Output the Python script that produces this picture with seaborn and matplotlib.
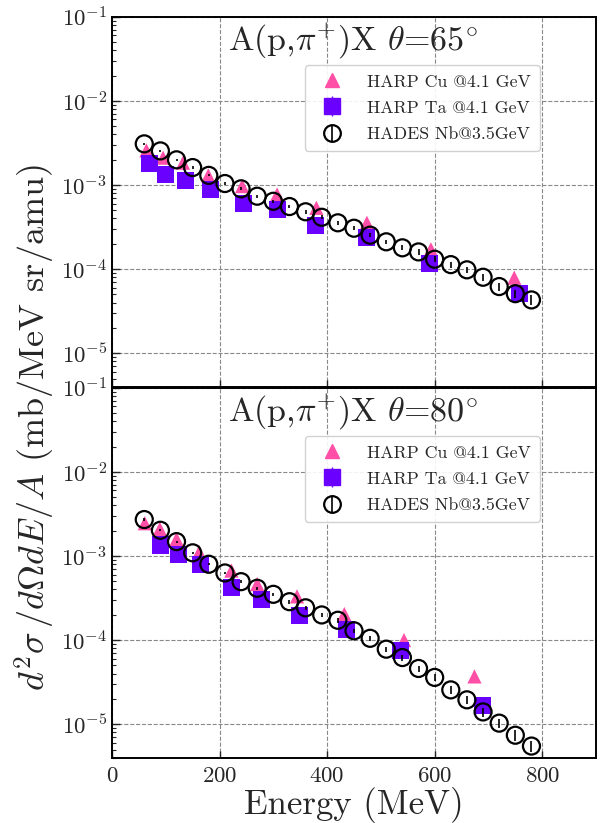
import numpy as np
import matplotlib
matplotlib.use("Agg")
import matplotlib.pyplot as plt
import seaborn as sns
from matplotlib.lines import Line2D
from matplotlib.legend_handler import HandlerTuple
from matplotlib.ticker import LogLocator, FixedLocator

# ---------------- data ----------------
hades_E = [60, 90, 120, 150, 180, 210, 240, 270, 300, 330, 360, 390, 420, 450,
           480, 510, 540, 570, 600, 630, 660, 690, 720, 750, 780]
hades65 = [3.08e-3, 2.54e-3, 1.99e-3, 1.61e-3, 1.30e-3, 1.04e-3, 9.0e-4, 7.35e-4,
           6.4e-4, 5.54e-4, 4.8e-4, 4.13e-4, 3.55e-4, 3.06e-4, 2.53e-4, 2.11e-4,
           1.79e-4, 1.60e-4, 1.31e-4, 1.13e-4, 9.8e-5, 8.0e-5, 6.2e-5, 5.1e-5, 4.3e-5]
hades65_relerr = [0.03, 0.03, 0.03, 0.03, 0.03, 0.03, 0.04, 0.04, 0.04, 0.04, 0.05, 0.05,
                  0.05, 0.05, 0.06, 0.06, 0.07, 0.07, 0.08, 0.08, 0.09, 0.10, 0.11, 0.12, 0.14]
hades80 = [2.71e-3, 2.02e-3, 1.48e-3, 1.09e-3, 7.97e-4, 6.28e-4, 4.95e-4, 4.13e-4,
           3.50e-4, 2.86e-4, 2.42e-4, 1.99e-4, 1.72e-4, 1.29e-4, 1.05e-4, 7.8e-5,
           6.2e-5, 4.6e-5, 3.6e-5, 2.56e-5, 1.95e-5, 1.40e-5, 1.03e-5, 7.4e-6, 5.5e-6]
hades80_relerr = [0.03, 0.03, 0.03, 0.03, 0.03, 0.04, 0.04, 0.04, 0.05, 0.05, 0.05, 0.06,
                  0.06, 0.06, 0.07, 0.07, 0.08, 0.08, 0.09, 0.10, 0.11, 0.12, 0.13, 0.14, 0.15]

cu65_E = [64, 95, 132, 179, 242, 307, 380, 474, 593, 748]
cu65 = [2.58e-3, 2.11e-3, 1.84e-3, 1.30e-3, 9.7e-4, 7.7e-4, 5.35e-4, 3.55e-4, 1.72e-4, 7.9e-5]
ta65_E = [70, 100, 137, 184, 244, 308, 378, 473, 591, 757]
ta65 = [1.80e-3, 1.33e-3, 1.13e-3, 8.9e-4, 6.0e-4, 5.1e-4, 3.27e-4, 2.35e-4, 1.16e-4, 5.1e-5]

cu80_E = [61, 89, 120, 162, 222, 270, 344, 432, 543, 674]
cu80 = [2.45e-3, 2.10e-3, 1.59e-3, 1.11e-3, 6.7e-4, 4.64e-4, 3.31e-4, 2.04e-4, 1.0e-4, 3.7e-5]
ta80_E = [90, 123, 165, 222, 278, 348, 436, 537, 689]
ta80 = [1.35e-3, 1.05e-3, 7.97e-4, 4.2e-4, 3.02e-4, 1.95e-4, 1.35e-4, 7.5e-5, 1.68e-5]

x_ticks = [0, 200, 400, 600, 800]
titles = [r'A(p,$\pi^{+}$)X $\theta$=65$^{\circ}$', r'A(p,$\pi^{+}$)X $\theta$=80$^{\circ}$']
labels = ['HARP Cu @4.1 GeV', 'HARP Ta @4.1 GeV', 'HADES Nb@3.5GeV']

# ---------------- style ----------------
sns.set_style("ticks")
plt.rcParams['font.family'] = ['cmr10', 'DejaVu Serif']
plt.rcParams['mathtext.fontset'] = 'cm'
plt.rcParams['axes.formatter.use_mathtext'] = True
plt.rcParams['axes.linewidth'] = 1.4
plt.rcParams['axes.edgecolor'] = 'black'

PINK = '#ff4fa7'
PURPLE = '#6a00ff'

fig = plt.figure(figsize=(6, 8.23), dpi=100)
W = 484 / 600
H = 370 / 823
L = 112 / 600
ax1 = fig.add_axes([L, 1 - 386.7 / 823, W, H])
ax2 = fig.add_axes([L, 1 - 757.7 / 823, W, H])

panels = [
    (ax1, cu65_E, cu65, ta65_E, ta65, hades65, hades65_relerr, titles[0]),
    (ax2, cu80_E, cu80, ta80_E, ta80, hades80, hades80_relerr, titles[1]),
]

for ax, cE, cY, tE, tY, hY, hErr, title in panels:
    sns.scatterplot(x=cE, y=cY, marker='^', s=105, color=PINK, edgecolor='none',
                    ax=ax, zorder=3)
    ax.errorbar(tE, tY, yerr=[0.04 * v for v in tY], fmt='none', ecolor=PURPLE,
                elinewidth=1.0, capsize=0, zorder=3.5)
    sns.scatterplot(x=tE, y=tY, marker='s', s=150, color=PURPLE, edgecolor='none',
                    ax=ax, zorder=4)
    ax.errorbar(hades_E, hY, yerr=[r * v for r, v in zip(hErr, hY)], fmt='none',
                ecolor='black', elinewidth=1.2, capsize=0, zorder=5)
    sns.scatterplot(x=hades_E, y=hY, marker='o', s=150, facecolor='none',
                    edgecolor='black', linewidth=1.6, ax=ax, zorder=6)

    ax.set_yscale('log')
    ax.set_ylim(4e-6, 0.1)
    ax.set_xlim(0, 900)
    ax.xaxis.set_major_locator(FixedLocator(x_ticks))
    ax.yaxis.set_major_locator(LogLocator(base=10, numticks=10))
    ax.yaxis.set_minor_locator(LogLocator(base=10, subs=np.arange(2, 10), numticks=20))
    ax.grid(True, which='major', linestyle='--', color='#888888', linewidth=0.8)
    ax.tick_params(axis='both', which='both', direction='in', labelsize=16.5,
                   left=True, bottom=True, right=False, top=False)
    ax.tick_params(axis='y', which='major', length=6, width=1.0)
    ax.tick_params(axis='y', which='minor', length=3, width=0.8)
    ax.tick_params(axis='x', which='major', length=5, width=1.0, pad=6)
    ax.set_xlabel('')
    ax.set_ylabel('')
    for sp in ax.spines.values():
        sp.set_visible(True)
        sp.set_color('black')

    ax.text(0.24, 0.935, title, transform=ax.transAxes, fontsize=24.5,
            va='center', ha='left')

    h_cu = Line2D([], [], marker='^', color=PINK, linestyle='none', markersize=10)
    h_ta = (Line2D([], [], marker='s', color=PURPLE, linestyle='none', markersize=11),
            Line2D([], [], marker='|', color=PURPLE, linestyle='none', markersize=14,
                   markeredgewidth=1.0))
    h_ha = (Line2D([], [], marker='o', markerfacecolor='none', markeredgecolor='black',
                   markeredgewidth=1.6, linestyle='none', markersize=12),
            Line2D([], [], marker='|', color='black', linestyle='none', markersize=12,
                   markeredgewidth=1.2))
    leg = ax.legend([h_cu, h_ta, h_ha], labels, loc='upper right',
                    bbox_to_anchor=(0.884, 0.869), borderaxespad=0.0,
                    fontsize=12.8, frameon=True,
                    fancybox=True, framealpha=0.9, edgecolor='#cccccc',
                    handler_map={tuple: HandlerTuple(ndivide=1)},
                    handlelength=2.0, handletextpad=1.0, borderpad=0.5,
                    labelspacing=0.6)
    leg.set_zorder(10)

ax1.tick_params(axis='x', labelbottom=False)

fig.text(0.058, 0.48, r'$d^2\sigma\,/d\Omega dE/A$ (mb/MeV sr/amu)', rotation=90,
         va='center', ha='center', fontsize=26)
fig.text(354 / 600, 1 - 805 / 823, 'Energy (MeV)', va='center', ha='center', fontsize=25)

fig.savefig('out.png', dpi=100)
